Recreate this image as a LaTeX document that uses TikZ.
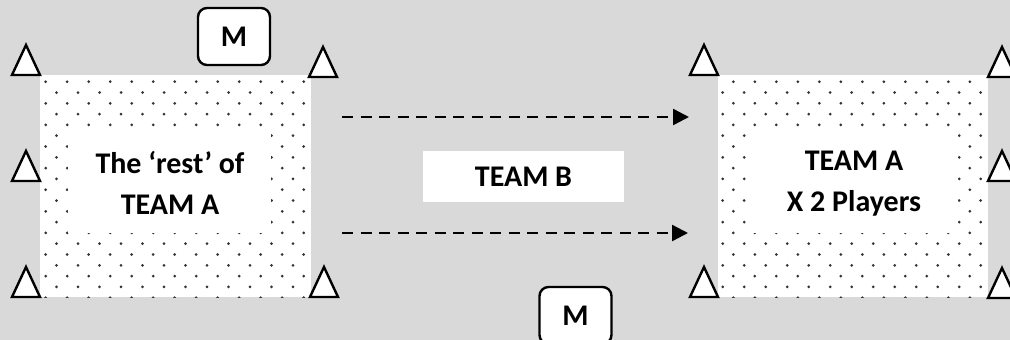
\documentclass[tikz,border=0pt]{standalone}
\usepackage{fontspec}
\setmainfont{Carlito}
\usetikzlibrary{arrows.meta}
\definecolor{bg}{HTML}{D9D9D9}
\definecolor{dotc}{HTML}{333333}
\begin{document}
\begin{tikzpicture}[x=1pt,y=-1pt,
  lbl/.style={font=\fontsize{30}{41}\selectfont\bfseries, align=center, inner sep=0pt},
  cone/.style={draw=black, line width=2.4pt, fill=white, line join=miter},
  mbox/.style={draw=black, line width=2.4pt, fill=white, rounded corners=9pt,
    minimum width=72pt, minimum height=57pt, inner sep=0pt,
    font=\fontsize{30}{34}\selectfont\bfseries},
  pitch/.style={fill=white, minimum height=222pt, inner sep=0pt, outer sep=0pt},
  labelbox/.style={fill=white, minimum width=201pt, minimum height=51pt, inner sep=0pt,
    font=\fontsize{30}{34}\selectfont\bfseries},
  flow/.style={dash pattern=on 11pt off 7.5pt, line width=2.4pt,
    -{Triangle[length=16pt,width=16pt]}}]
\fill[bg] (0,0) rectangle (1010,340);
\useasboundingbox (0,0) rectangle (1010,340);

% pitches
\node[pitch, minimum width=271pt] (left) at (175.5,186) {};
\node[pitch, minimum width=270pt] (right) at (853,186) {};

% dot patterns
\begin{scope}
  \clip (left.north west) rectangle (left.south east);
  \foreach \r in {0,...,20} {
    \pgfmathsetmacro\yy{81.7+10.8*\r}
    \pgfmathsetmacro\xo{mod(\r,2)==0 ? 45.7 : 56.5}
    \foreach \c in {0,...,12} { \fill[dotc] (\xo+21.5*\c,\yy) circle (1.5pt); }
  }
\end{scope}
\begin{scope}
  \clip (right.north west) rectangle (right.south east);
  \foreach \r in {0,...,20} {
    \pgfmathsetmacro\yy{81.7+10.8*\r}
    \pgfmathsetmacro\xo{mod(\r,2)==0 ? 733.3 : 722.7}
    \foreach \c in {0,...,12} { \fill[dotc] (\xo+21.5*\c,\yy) circle (1.5pt); }
  }
\end{scope}
\fill[white] (68,129) rectangle (271,233);
\fill[white] (748,131) rectangle (958,233);

\node[lbl] (lefttext) at (170,183) {The ‘rest’ of\\TEAM A};
\node[lbl] (righttext) at (854,184) {TEAM A\\X 2 Players};

% cones
\foreach \cx/\cy in {26/75, 26/181, 26/297, 323/77, 324/297,
                     704/75, 704/297, 1002/77, 1002/181, 1002/298} {
  \draw[cone] (\cx-14,\cy) -- (\cx,\cy-30) -- (\cx+14,\cy) -- cycle;
}

% team B
\node[labelbox] (teamb) at (523.5,176.5) {TEAM B};

% managers
\node[mbox] (mtop) at (234,36.5) {M};
\node[mbox] (mbot) at (575.5,315.5) {M};

% arrows
\coordinate (a1s) at (342,117);
\coordinate (a1e) at (689,117);
\coordinate (a2s) at (342,233);
\coordinate (a2e) at (688,233);
\draw[flow] (a1s) -- (a1e);
\draw[flow] (a2s) -- (a2e);
\end{tikzpicture}
\end{document}
